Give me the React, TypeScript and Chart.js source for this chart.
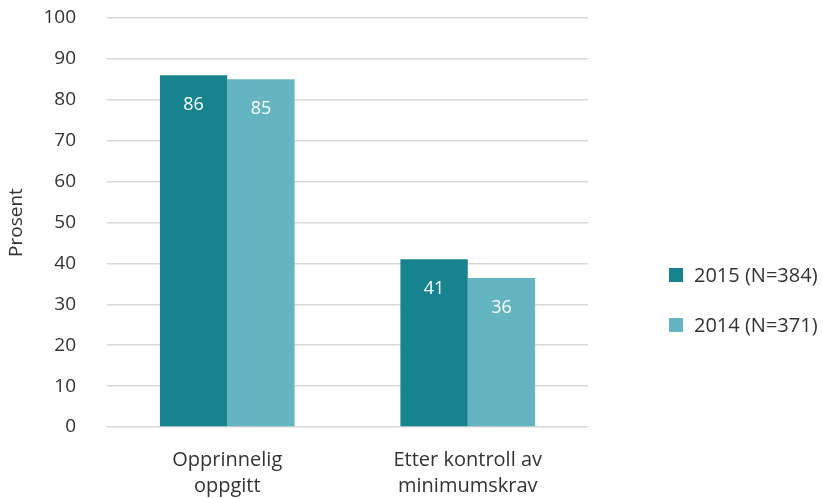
import React, { useEffect, useRef } from "react";
import { Chart, registerables } from "chart.js";

Chart.register(...registerables);

const categories: string[][] = [["Opprinnelig", "oppgitt"], ["Etter kontroll av", "minimumskrav"]];
const series2015: number[] = [86, 41];
const series2014: number[] = [85, 36.4];
const seriesLabels: string[] = ["2015 (N=384)", "2014 (N=371)"];
const seriesColors: string[] = ["#16838f", "#64b5c1"];
const yTicks: number[] = [0, 10, 20, 30, 40, 50, 60, 70, 80, 90, 100];

const FONT = "'Open Sans', sans-serif";
const TEXT = "#333333";

const valueLabels = {
  id: "valueLabels",
  afterDatasetsDraw(chart: any) {
    const ctx = chart.ctx;
    ctx.save();
    ctx.fillStyle = "#ffffff";
    ctx.font = `18px ${FONT}`;
    ctx.textAlign = "center";
    ctx.textBaseline = "middle";
    chart.data.datasets.forEach((ds: any, di: number) => {
      const meta = chart.getDatasetMeta(di);
      meta.data.forEach((bar: any, i: number) => {
        ctx.fillText(String(Math.round(ds.data[i])), bar.x, bar.y + 30);
      });
    });
    ctx.restore();
  },
};

const sideLegend = {
  id: "sideLegend",
  afterDraw(chart: any) {
    const ctx = chart.ctx;
    const x0 = chart.chartArea.right + 81;
    ctx.save();
    ctx.font = `20px ${FONT}`;
    ctx.textBaseline = "middle";
    ctx.textAlign = "left";
    chart.data.datasets.forEach((ds: any, i: number) => {
      const cy = 275 + i * 50;
      ctx.fillStyle = ds.backgroundColor;
      ctx.fillRect(x0, cy - 7, 14, 14);
      ctx.fillStyle = TEXT;
      ctx.fillText(ds.label, x0 + 25, cy + 1);
    });
    ctx.restore();
  },
};

export default function App() {
  const ref = useRef<HTMLCanvasElement>(null);
  useEffect(() => {
    if (!ref.current) return;
    const chart = new Chart(ref.current, {
      type: "bar",
      data: {
        labels: categories,
        datasets: [
          { label: seriesLabels[0], data: series2015, backgroundColor: seriesColors[0] },
          { label: seriesLabels[1], data: series2014, backgroundColor: seriesColors[1] },
        ],
      },
      options: {
        animation: false,
        responsive: true,
        maintainAspectRatio: false,
        layout: { padding: { top: 18, right: 235, bottom: 0, left: 0 } },
        datasets: { bar: { barPercentage: 1.0, categoryPercentage: 0.56 } },
        plugins: { legend: { display: false }, tooltip: { enabled: false } },
        scales: {
          x: {
            grid: { display: false, drawTicks: false },
            border: { display: false },
            ticks: { color: TEXT, font: { family: FONT, size: 20, lineHeight: 1.3 }, padding: 20 },
            afterFit: (s: any) => { s.height = 71; s.paddingLeft = 0; s.paddingRight = 0; },
          },
          y: {
            min: 0,
            max: 100,
            afterBuildTicks: (s: any) => { s.ticks = yTicks.map((v) => ({ value: v })); },
            grid: { color: "#d9d9d9", lineWidth: 1.5, drawTicks: false },
            border: { display: false },
            ticks: { color: TEXT, font: { family: FONT, size: 19 }, padding: 31 },
            title: { display: true, text: "Prosent", color: TEXT, font: { family: FONT, size: 19, lineHeight: 1.2 }, padding: { top: 5, bottom: 0 } },
            afterFit: (s: any) => { s.width = 107; s.paddingTop = 0; s.paddingBottom = 0; },
          },
        },
      },
      plugins: [valueLabels, sideLegend],
    });
    return () => chart.destroy();
  }, []);
  return (
    <div style={{ position: "fixed", left: 0, top: 0, width: 823, height: 498 }}>
      <canvas ref={ref} />
    </div>
  );
}
